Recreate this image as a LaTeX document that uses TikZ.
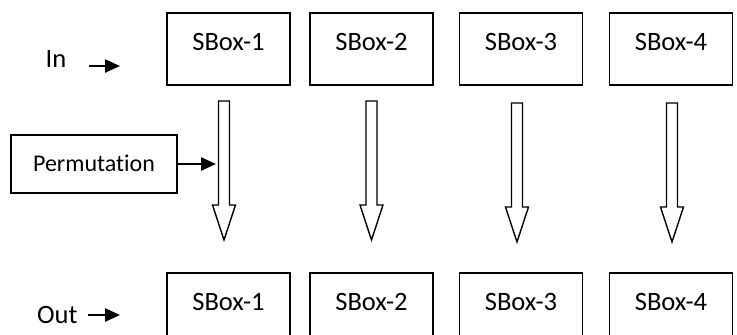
\documentclass[tikz,border=0pt]{standalone}
\usepackage{fontspec}
\setmainfont{Carlito}[Ligatures=NoCommon]
\usetikzlibrary{arrows.meta}

\tikzset{
  sbox/.style={draw, line width=1.4pt, minimum width=123pt, inner sep=0pt,
    text height=37pt, text depth=35pt, font=\fontsize{26.5}{30}\selectfont},
  permbox/.style={draw, line width=1.4pt, minimum width=166pt, inner sep=0pt,
    text height=36pt, text depth=22pt, font=\fontsize{24}{28}\selectfont},
  lbl/.style={anchor=base west, inner sep=0pt, font=\fontsize{26.5}{30}\selectfont},
  arr/.style={line width=2.4pt, -{Triangle[length=15pt,width=13pt]}},
  hollow/.style={draw, line width=1.4pt, line join=miter, fill=white}
}

\begin{document}
\begin{tikzpicture}[x=1pt,y=-1pt]
  \useasboundingbox (0,0) rectangle (737,335);
  \clip (0,0) rectangle (737,335);

  % first row of S-boxes
  \node[sbox] (t1) at (228.5,49) {SBox-1};
  \node[sbox] (t2) at (371.5,49) {SBox-2};
  \node[sbox] (t3) at (521,49)   {SBox-3};
  \node[sbox] (t4) at (671,49)   {SBox-4};

  % second row of S-boxes
  \node[sbox] (b1) at (228.5,309) {SBox-1};
  \node[sbox] (b2) at (371.5,309) {SBox-2};
  \node[sbox] (b3) at (521,309)   {SBox-3};
  \node[sbox] (b4) at (671,309)   {SBox-4};

  % input / output labels
  \node[lbl] (in)  at (45.5,67) {In};
  \node[lbl] (out) at (37,323)  {Out};
  \coordinate (in-s)  at (89,66);
  \coordinate (in-e)  at (120,66);
  \coordinate (out-s) at (88,315);
  \coordinate (out-e) at (120,315);
  \draw[arr] (in-s) -- (in-e);
  \draw[arr] (out-s) -- (out-e);

  % hollow block arrows between the rows
  \foreach \c/\t/\e in {224/101/240, 371.5/101/240, 517/103/242, 672/103/242}{
    \draw[hollow] (\c-5.5,\t) -- (\c+5.5,\t) -- (\c+5.5,\e-35) -- (\c+11.5,\e-35)
      -- (\c,\e) -- (\c-11.5,\e-35) -- (\c-5.5,\e-35) -- cycle;
  }

  % permutation layer
  \node[permbox] (perm) at (94,164) {Permutation};
  \coordinate (p1) at (216,164);
  \draw[arr] (perm.east) -- (p1);
\end{tikzpicture}
\end{document}
